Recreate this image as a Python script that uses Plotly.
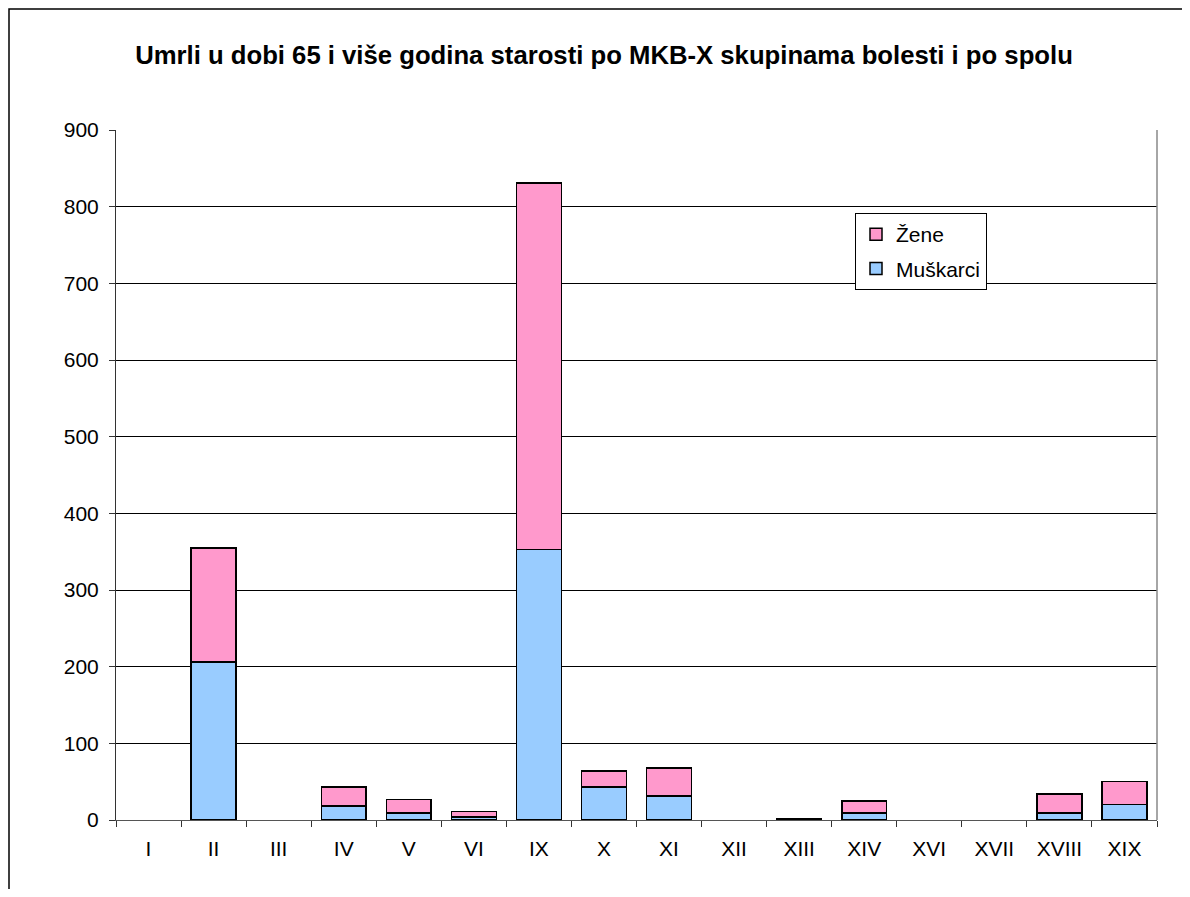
import plotly.graph_objects as go

categories = ["I", "II", "III", "IV", "V", "VI", "IX", "X", "XI", "XII",
              "XIII", "XIV", "XVI", "XVII", "XVIII", "XIX"]
muskarci = [0, 206, 0, 18, 9, 4, 353, 43, 31, 0, 1, 9, 0, 0, 9, 20]
zene = [0, 149, 0, 25, 18, 7, 478, 21, 37, 0, 1, 16, 0, 0, 25, 30]
y_ticks = [0, 100, 200, 300, 400, 500, 600, 700, 800, 900]

BLUE = "#99CCFF"
PINK = "#FF99CC"
FONT = "Liberation Sans, Arial, sans-serif"

# page body has an 8px margin, so the figure is a bit smaller than the window
W, H = 1174, 881
L, R, T, B = 108, 25, 122, 69
plot_w = W - L - R
plot_h = H - T - B


def no_zero(values):
    # empty groups draw nothing in the original chart
    return [v if v else None for v in values]


fig = go.Figure()

fig.add_trace(
    go.Bar(
        x=categories,
        y=no_zero(muskarci),
        name="Muškarci",
        legendgroup="m",
        legendrank=2,
        marker=dict(color=BLUE, line=dict(color="black", width=1.5))
    )
)

fig.add_trace(
    go.Bar(
        x=categories,
        y=no_zero(zene),
        name="Žene",
        legendgroup="z",
        legendrank=1,
        marker=dict(color=PINK, line=dict(color="black", width=1.5))
    )
)

fig.update_layout(
    width=W,
    height=H,
    barmode="stack",
    bargap=0.31,
    paper_bgcolor="#fff",
    plot_bgcolor="#fff",
    font=dict(family=FONT, size=21, color="#000"),
    title=dict(
        text="<b>Umrli u dobi 65 i više godina starosti po MKB-X skupinama bolesti i po spolu</b>",
        font=dict(family=FONT, size=25.7, color="#000"),
        x=596 / W,
        xanchor="center",
        y=1 - 47 / H,
        yanchor="middle",
        yref="container"
    ),
    xaxis=dict(
        type="category",
        showgrid=False,
        showline=True,
        linecolor="#555",
        linewidth=1,
        ticks="outside",
        tickson="boundaries",
        ticklen=6,
        tickcolor="#333",
        ticklabelstandoff=10,
        tickfont=dict(size=21)
    ),
    yaxis=dict(
        range=[0, 900],
        tickvals=y_ticks,
        showgrid=True,
        gridcolor="#000",
        gridwidth=1,
        showline=True,
        linecolor="#333",
        linewidth=1,
        ticks="outside",
        ticklen=6,
        tickcolor="#333",
        ticklabelstandoff=6,
        tickfont=dict(size=21),
        zeroline=False
    ),
    legend=dict(
        x=(847 - L) / plot_w,
        y=1 - (205 - T) / plot_h,
        xanchor="left",
        yanchor="top",
        traceorder="grouped",
        tracegroupgap=4,
        bordercolor="#000",
        borderwidth=1,
        bgcolor="#fff",
        font=dict(size=21),
        itemwidth=30
    ),
    margin=dict(l=L, r=R, t=T, b=B, autoexpand=False),
    showlegend=True
)

# right edge of the plot area (gray)
fig.add_shape(
    type="line", xref="paper", yref="paper",
    x0=1, x1=1, y0=0, y1=1,
    line=dict(color="#888", width=1.5)
)

# outer chart border (top and left visible, the rest runs off the page)
fig.add_shape(
    type="rect", xref="paper", yref="paper",
    x0=(1 - L) / plot_w, x1=1.1,
    y0=-0.2, y1=1 + (T - 1) / plot_h,
    line=dict(color="#000", width=1.5),
    fillcolor="rgba(0,0,0,0)",
    layer="above"
)

fig.write_html("out.html")
